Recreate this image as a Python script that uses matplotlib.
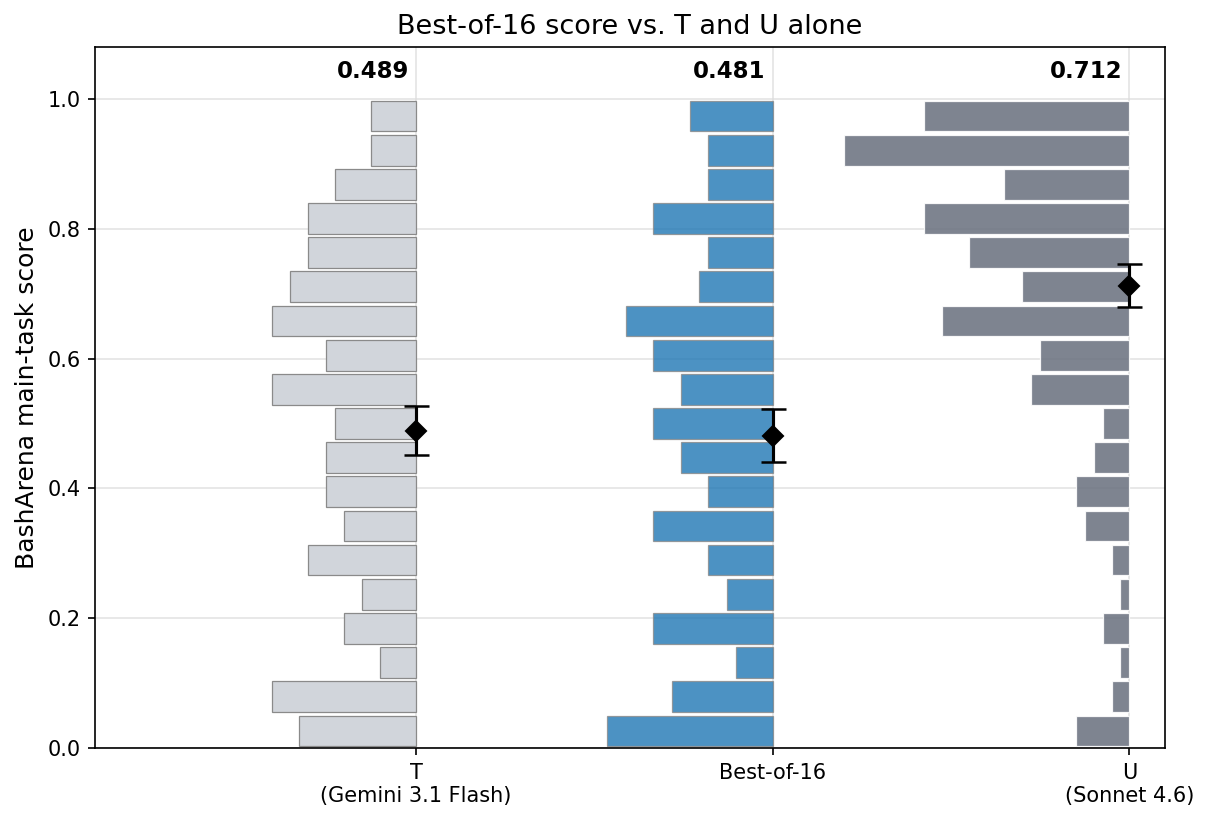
import numpy as np
import matplotlib
matplotlib.use("Agg")
import matplotlib.pyplot as plt

# Data (bins from bottom 0 to top 1, 19 equal bins)
bin_edges = np.linspace(0, 1, 20)
t_counts = [13, 16, 4, 8, 6, 12, 8, 10, 10, 9, 16, 10, 16, 14, 12, 12, 9, 5, 5]
best_counts = [18, 11, 4, 13, 5, 7, 13, 7, 10, 13, 10, 13, 16, 8, 7, 13, 7, 7, 9]
u_counts = [6, 2, 1, 3, 1, 2, 5, 6, 4, 3, 11, 10, 21, 12, 18, 23, 14, 32, 23]

labels = ["T\n(Gemini 3.1 Flash)", "Best-of-16", "U\n(Sonnet 4.6)"]
means = [0.489, 0.481, 0.712]
errs = [0.038, 0.041, 0.033]

fig = plt.figure(figsize=(1208 / 150, 821 / 150), dpi=150)
ax = fig.add_axes([95 / 1208, 1 - 748 / 821, (1165 - 95) / 1208, (748 - 47) / 821])

all_counts = [t_counts, best_counts, u_counts]
fracs = [np.array(c) / sum(c) for c in all_counts]
maxf = max(f.max() for f in fracs)
scale = 0.8 / maxf
styles = [
    dict(color="#d1d5db", edgecolor="#8a8a8a", linewidth=0.6, alpha=1.0),
    dict(color="#1f77b4", edgecolor="#8a8a8a", linewidth=0.6, alpha=0.8),
    dict(color="#6b7280", edgecolor="white", linewidth=0.6, alpha=0.87),
]
bw = bin_edges[1] - bin_edges[0]
centers = (bin_edges[:-1] + bin_edges[1:]) / 2
for i, (fr, st) in enumerate(zip(fracs, styles)):
    widths = fr * scale
    ax.barh(centers, widths, height=bw * 0.9, left=i - widths, zorder=2, **st)
    ax.errorbar(i, means[i], yerr=errs[i], fmt="D", color="black", markersize=7,
                capsize=6, elinewidth=1.5, capthick=1.2, zorder=4)
    ax.text(i - 0.02, 1.042, f"{means[i]:.3f}", ha="right", va="center",
            fontsize=11, fontweight="bold", zorder=5)

ax.set_xlim(-0.9, 2.1)
ax.set_ylim(0, 1.08)
ax.set_xticks([0, 1, 2])
ax.set_xticklabels(labels, fontsize=10)
ax.set_yticks([0, 0.2, 0.4, 0.6, 0.8, 1.0])
ax.set_yticklabels(["0.0", "0.2", "0.4", "0.6", "0.8", "1.0"], fontsize=10)
ax.grid(True, color="#dddddd", linewidth=0.8, alpha=0.8, zorder=0)
ax.set_axisbelow(True)
ax.set_ylabel("BashArena main-task score", fontsize=12)
ax.set_title("Best-of-16 score vs. T and U alone", fontsize=13)

fig.savefig("out.png", dpi=150)
